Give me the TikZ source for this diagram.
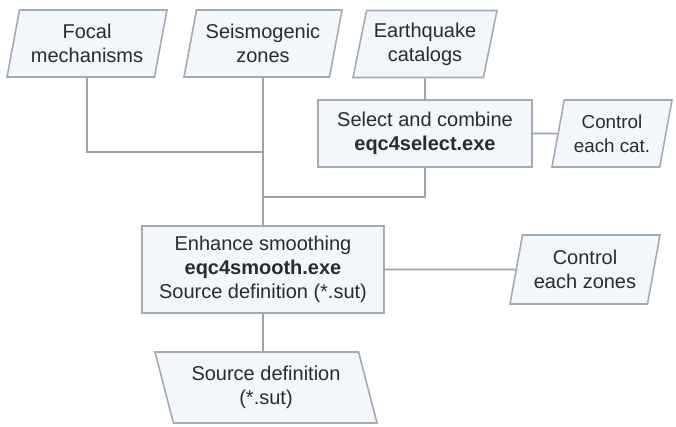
\documentclass[tikz,border=0pt]{standalone}
\usepackage{fontspec}
\setmainfont{Liberation Sans}
\usetikzlibrary{positioning,shapes.geometric}
\definecolor{boxline}{HTML}{A3ABB4}
\definecolor{boxfill}{HTML}{F2F7FC}
\definecolor{wire}{HTML}{9AA2AB}
\definecolor{ink}{HTML}{2B2B2B}

\begin{document}
\begin{tikzpicture}[
  x=0.5pt, y=-0.5pt,
  proc/.style={draw=boxline, fill=boxfill, line width=0.8pt, align=center, font=\fontsize{10}{12}\selectfont, text=ink, inner sep=2pt},
  datain/.style={proc, trapezium, trapezium left angle=75, trapezium right angle=105, trapezium stretches body=true, minimum height=33.5pt},
  dataout/.style={datain, trapezium left angle=110, trapezium right angle=70, minimum height=35.5pt},
  link/.style={draw=wire, line width=0.9pt},
]
\useasboundingbox (0,0) rectangle (676,427);
\node[datain, minimum width=80pt] (focal) at (87,43.5) {Focal\\mechanisms};
\node[datain, minimum width=79pt] (seismo) at (263,43.5) {Seismogenic\\zones};
\node[datain, minimum width=72pt] (quake) at (425,44) {Earthquake\\catalogs};
\node[proc, minimum width=107pt, minimum height=33.5pt] (select) at (425,133.5) {Select and combine\\\textbf{eqc4select.exe}};
\node[datain, minimum width=60pt, inner xsep=0pt, font=\fontsize{9.4}{12}\selectfont] (ctlcat) at (612,133.5) {Control\\each cat.};
\node[proc, minimum width=121pt, minimum height=43.5pt] (enhance) at (263,269.5) {Enhance smoothing\\\textbf{eqc4smooth.exe}\\Source definition (*.sut)};
\node[datain, minimum width=75pt, minimum height=34.5pt] (ctlzone) at (585,269.5) {Control\\each zones};
\node[dataout, minimum width=111pt] (result) at (266,387.5) {Source definition\\(*.sut)};
\coordinate (mid1) at (263,152);
\coordinate (mid2) at (263,197);
\draw[link] (focal.south) |- (mid1);
\draw[link] (seismo.south) -- (enhance.north);
\draw[link] (quake.south) -- (select.north);
\draw[link] (select.south) |- (mid2);
\draw[link] (select.east) -- (ctlcat.west);
\draw[link] (enhance.east) -- (ctlzone.west);
\draw[link] (enhance.south) -- (enhance.south |- result.north);
\end{tikzpicture}
\end{document}
